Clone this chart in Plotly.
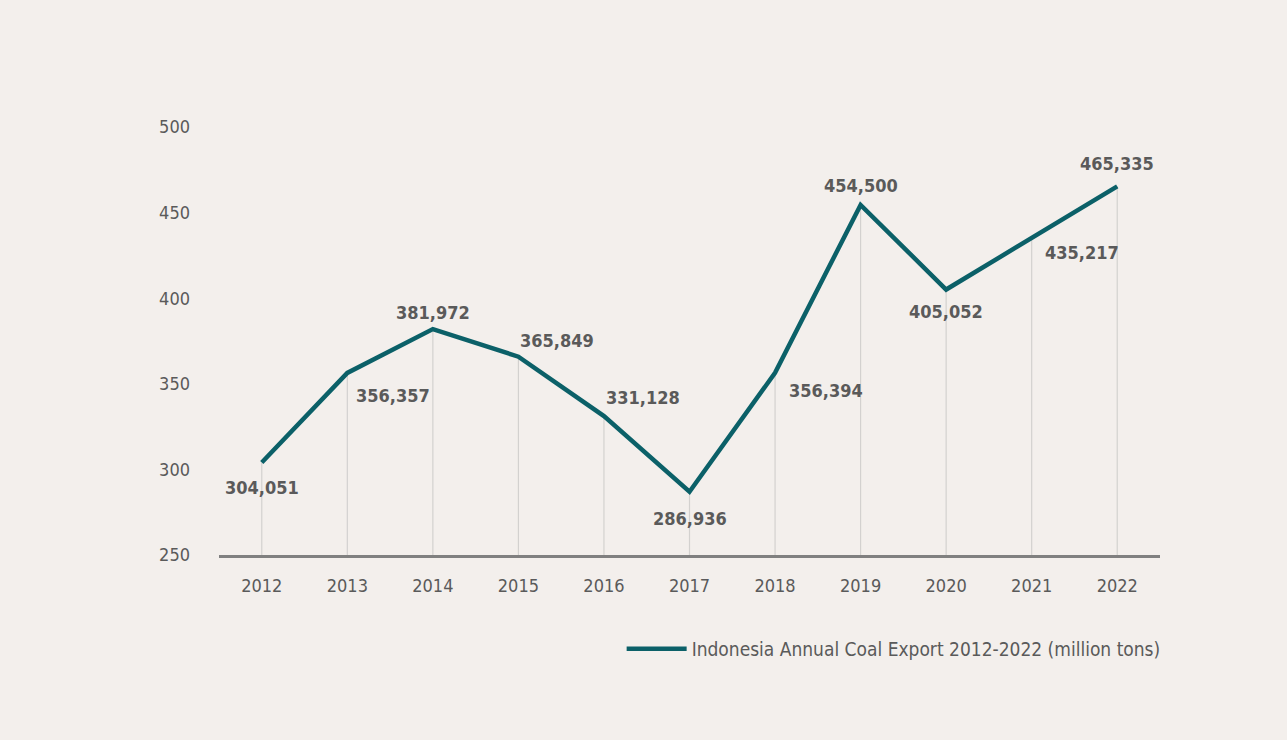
import plotly.graph_objects as go

# Indonesia annual coal export, million tons
years = ["2012", "2013", "2014", "2015", "2016", "2017", "2018", "2019", "2020", "2021", "2022"]
exports = [304.051, 356.357, 381.972, 365.849, 331.128, 286.936, 356.394, 454.500, 405.052, 435.217, 465.335]
value_labels = ["304,051", "356,357", "381,972", "365,849", "331,128", "286,936",
                "356,394", "454,500", "405,052", "435,217", "465,335"]
y_ticks = [250, 300, 350, 400, 450, 500]
series_name = "Indonesia Annual Coal Export 2012-2022 (million tons)"

BG = "#f3efec"
TEAL = "#0b6068"
TEXT = "#5a5a5a"
FONT = "DejaVu Sans Condensed, Roboto, sans-serif"

x = list(range(len(years)))
y_min = y_ticks[0]

# label placement per point: (xanchor, xshift, yshift)
placement = [
    ("center", 0, -25), ("left", 7, -23), ("center", 0, 17), ("left", 0, 16),
    ("left", 0, 19), ("center", 0, -27), ("left", 12, -18), ("center", 0, 19),
    ("center", 0, -22), ("left", 11, -15), ("center", 0, 23),
]

fig = go.Figure()

# drop lines from each point down to the baseline
drop_x, drop_y = [], []
for xi, v in zip(x, exports):
    drop_x += [xi, xi, None]
    drop_y += [y_min, v, None]
fig.add_trace(go.Scatter(
    x=drop_x, y=drop_y, mode="lines",
    line=dict(color="#d3d1cf", width=1.2),
    showlegend=False, hoverinfo="skip",
))

fig.add_trace(go.Scatter(
    x=x, y=exports, mode="lines", name=series_name,
    line=dict(color=TEAL, width=4.5),
))

for xi, v, lab, (xa, xs, ys) in zip(x, exports, value_labels, placement):
    fig.add_annotation(
        x=xi, y=v, text=f"<b>{lab}</b>", showarrow=False,
        xanchor=xa, yanchor="middle", xshift=xs, yshift=ys,
        font=dict(family=FONT, size=18, color=TEXT),
    )

fig.update_layout(
    width=1287, height=740,
    paper_bgcolor=BG, plot_bgcolor=BG,
    margin=dict(l=219, r=127, t=127, b=185),
    font=dict(family=FONT, color=TEXT),
    showlegend=True,
    legend=dict(
        orientation="h", x=1.006, xanchor="right", y=-0.175, yanchor="top",
        font=dict(family=FONT, size=19, color=TEXT),
        bgcolor="rgba(0,0,0,0)", itemwidth=60,
    ),
    xaxis=dict(
        range=[-0.5, len(years) - 0.5],
        tickmode="array", tickvals=x, ticktext=years,
        showgrid=False, zeroline=False,
        showline=True, linecolor="#808080", linewidth=2.5,
        ticks="", ticklabelstandoff=13,
        tickfont=dict(family=FONT, size=18, color=TEXT),
        fixedrange=True,
    ),
    yaxis=dict(
        range=[y_ticks[0], y_ticks[-1]],
        tickmode="array", tickvals=y_ticks,
        showgrid=False, zeroline=False, showline=False,
        ticks="", ticklabelstandoff=28,
        tickfont=dict(family=FONT, size=18, color=TEXT),
        fixedrange=True,
    ),
)

fig.write_html("out.html")
